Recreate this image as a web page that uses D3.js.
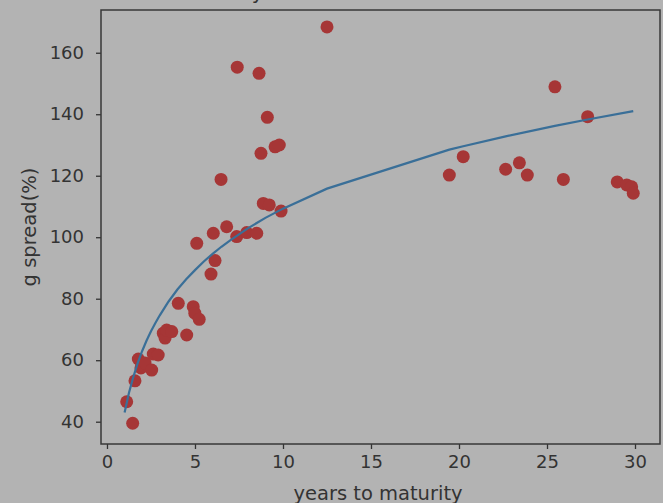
<!DOCTYPE html>
<html>
<head>
<meta charset="utf-8">
<script src="https://cdn.jsdelivr.net/npm/d3@7"></script>
<style>
  body { margin: 0; background: #b3b3b3; }
  svg { display: block; }
  text { font-family: "DejaVu Sans", sans-serif; fill: #333; }
</style>
</head>
<body>
<svg id="chart" width="663" height="503"></svg>
<script>
// bonds: years to maturity and g spread (%)
var years = [1.12, 1.46, 1.59, 1.78, 1.93, 2.16, 2.54, 2.63, 2.91, 3.20, 3.30, 3.39, 3.68,
  4.05, 4.53, 4.90, 4.99, 5.10, 5.24, 5.91, 6.04, 6.14, 6.48, 6.80, 7.37, 7.40, 7.94,
  8.51, 8.64, 8.75, 8.88, 9.11, 9.22, 9.55, 9.79, 9.89, 12.5, 19.45, 20.24, 22.65,
  23.43, 23.88, 25.45, 25.93, 27.31, 28.99, 29.53, 29.81, 29.90];
var spread = [46.5, 39.5, 53.3, 60.4, 57.5, 59.1, 56.8, 62.0, 61.7, 68.8, 67.2, 69.8, 69.3,
  78.5, 68.2, 77.4, 75.3, 98.0, 73.3, 88.0, 101.3, 92.4, 118.8, 103.4, 100.2, 155.3, 101.5,
  101.3, 153.3, 127.3, 111.0, 139.0, 110.5, 129.4, 130.0, 108.5, 168.4, 120.2, 126.2, 122.1,
  124.2, 120.2, 148.9, 118.8, 139.2, 118.0, 117.0, 116.4, 114.3];

// fitted curve
var fitYears = [1.0, 1.25, 1.5, 1.75, 2, 2.25, 2.5, 2.75, 3, 3.5, 4, 4.5, 5, 5.5, 6, 6.5, 7, 8, 9, 10,
  12.5, 19.45, 20.24, 22.65, 25.45, 27.31, 29.9];
var fitSpread = [43, 49.4, 54.6, 59.1, 63, 66.4, 69.4, 72.1, 74.6, 79.1, 83, 86.3, 89.3, 92.1, 94.6,
  96.9, 99, 102.9, 106.3, 109.3, 115.8, 128.5, 129.6, 132.8, 136.2, 138.3, 141];

var xTicks = [0, 5, 10, 15, 20, 25, 30];
var yTicks = [40, 60, 80, 100, 120, 140, 160];

var svg = d3.select("#chart"),
    width = +svg.attr("width"),
    height = +svg.attr("height"),
    margin = {top: 10, right: 3, bottom: 59, left: 101};

var x = d3.scaleLinear().domain([-0.34, 31.42]).range([margin.left, width - margin.right]);
var y = d3.scaleLinear().domain([32.75, 173.9]).range([height - margin.bottom, margin.top]);

// title sits mostly above the top edge, as in the picture
svg.append("text")
    .attr("x", 114)
    .attr("y", -1)
    .style("font-size", "20px")
    .text("Curve fitted by OLS");

var pts = years.map(function(d, i) { return {x: d, y: spread[i]}; });
var fit = fitYears.map(function(d, i) { return {x: d, y: fitSpread[i]}; });

svg.append("g")
    .selectAll("circle")
    .data(pts)
    .enter().append("circle")
    .attr("cx", function(d) { return x(d.x); })
    .attr("cy", function(d) { return y(d.y); })
    .attr("r", 6.5)
    .attr("fill", "#a63636");

var line = d3.line()
    .x(function(d) { return x(d.x); })
    .y(function(d) { return y(d.y); });

svg.append("path")
    .datum(fit)
    .attr("d", line)
    .attr("fill", "none")
    .attr("stroke", "#3a6f98")
    .attr("stroke-width", 2.2);

svg.append("g")
    .attr("transform", "translate(0," + (height - margin.bottom) + ")")
    .call(d3.axisBottom(x).tickValues(xTicks).tickSize(5).tickPadding(6));

svg.append("g")
    .attr("transform", "translate(" + margin.left + ",0)")
    .call(d3.axisLeft(y).tickValues(yTicks).tickSize(5).tickPadding(12));

svg.selectAll(".domain").remove();
svg.selectAll(".tick line").attr("stroke", "#333").attr("stroke-width", 1.3);
svg.selectAll(".tick text").style("font-size", "18px").attr("fill", "#333");

// frame
svg.append("rect")
    .attr("x", margin.left)
    .attr("y", margin.top)
    .attr("width", width - margin.left - margin.right)
    .attr("height", height - margin.top - margin.bottom)
    .attr("fill", "none")
    .attr("stroke", "#383838")
    .attr("stroke-width", 1.5);

svg.append("text")
    .attr("x", 378)
    .attr("y", 500)
    .attr("text-anchor", "middle")
    .style("font-size", "19.5px")
    .text("years to maturity");

svg.append("text")
    .attr("transform", "translate(36,227) rotate(-90)")
    .attr("text-anchor", "middle")
    .style("font-size", "19.5px")
    .text("g spread(%)");
</script>
</body>
</html>
